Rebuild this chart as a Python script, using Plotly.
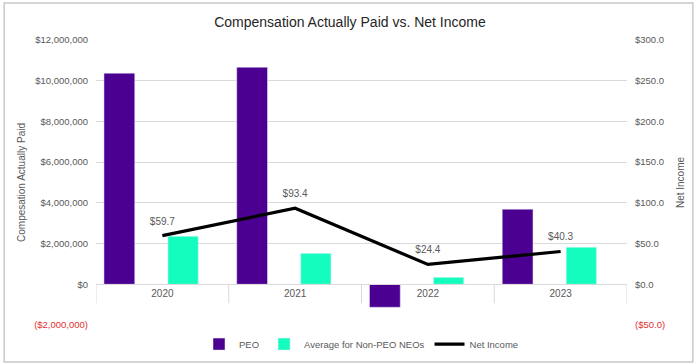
import plotly.graph_objects as go

years = ["2020", "2021", "2022", "2023"]
peo_cap = [10370000, 10660000, -1130000, 3690000]
neo_cap = [2360000, 1520000, 340000, 1820000]
net_income = [59.7, 93.4, 24.4, 40.3]
net_income_labels = ["$59.7", "$93.4", "$24.4", "$40.3"]

left_tickvals = [-2000000, 0, 2000000, 4000000, 6000000, 8000000, 10000000, 12000000]
left_ticktext = ['<span style="color:#e03030">($2,000,000)</span>', "$0", "$2,000,000", "$4,000,000",
                 "$6,000,000", "$8,000,000", "$10,000,000", "$12,000,000"]
right_tickvals = [-50, 0, 50, 100, 150, 200, 250, 300]
right_ticktext = ['<span style="color:#e03030">($50.0)</span>', "$0.0", "$50.0", "$100.0",
                  "$150.0", "$200.0", "$250.0", "$300.0"]

PEO_COLOR = "#4B0091"
NEO_COLOR = "#14FDBE"
GRID = "#d9d9d9"
TXT = "#595959"
FONT = "Liberation Sans"

fig = go.Figure()
fig.add_trace(go.Bar(x=years, y=peo_cap, name="PEO", marker_color=PEO_COLOR,
                     offset=-0.44, width=0.232, yaxis="y"))
fig.add_trace(go.Bar(x=years, y=neo_cap, name="Average for Non-PEO NEOs", marker_color=NEO_COLOR,
                     offset=0.042, width=0.228, yaxis="y"))
fig.add_trace(go.Scatter(x=years, y=net_income, name="Net Income", mode="lines+markers+text",
                         line=dict(color="black", width=3.2),
                         marker=dict(size=12, color="rgba(0,0,0,0)"),
                         text=net_income_labels,
                         textposition="top center", textfont=dict(size=10, color=TXT, family=FONT),
                         yaxis="y2", cliponaxis=False))

yr = [left_tickvals[0], left_tickvals[-1]]
zero_frac = (0 - yr[0]) / (yr[1] - yr[0])

shapes = []
# outer chart border
shapes.append(dict(type="rect", xref="paper", yref="paper", x0=-0.173, x1=1.124, y0=-0.13, y1=1.13,
                   line=dict(color="#c8c8c8", width=1.5), fillcolor="rgba(0,0,0,0)", layer="below"))
# category dividers below the axis
for i in range(len(years) + 1):
    shapes.append(dict(type="line", xref="x", yref="y", x0=i - 0.5, x1=i - 0.5, y0=0, y1=-930000,
                       line=dict(color=GRID, width=1), layer="below"))

fig.update_layout(
    width=700, height=364,
    margin=dict(l=96, r=73, t=40, b=39, autoexpand=False),
    paper_bgcolor="white", plot_bgcolor="white",
    title=dict(text="Compensation Actually Paid vs. Net Income", x=0.5, xanchor="center",
               y=0.94, yanchor="middle", font=dict(family=FONT, size=14, color="#262626")),
    barmode="overlay",
    showlegend=True,
    legend=dict(orientation="h", x=0.5, xanchor="center", y=-0.067, yanchor="middle",
                font=dict(family=FONT, size=9.5, color=TXT), itemwidth=30, tracegroupgap=0,
                bgcolor="rgba(0,0,0,0)"),
    xaxis=dict(type="category", categoryarray=years, range=[-0.5, len(years) - 0.5],
               anchor="free", position=zero_frac, showline=True, linecolor=GRID, linewidth=1,
               ticks="", showgrid=False, automargin=False,
               tickfont=dict(family=FONT, size=10, color=TXT)),
    yaxis=dict(range=yr, tickvals=left_tickvals, ticktext=left_ticktext, showgrid=True,
               gridcolor=GRID, gridwidth=1, zeroline=False, ticks="", ticklabelstandoff=7,
               automargin=False,
               tickfont=dict(family=FONT, size=9.5, color=TXT),
               title=dict(text="Compesation Actually Paid", standoff=6,
                          font=dict(family=FONT, size=10, color=TXT))),
    yaxis2=dict(range=[right_tickvals[0], right_tickvals[-1]], tickvals=right_tickvals,
                ticktext=right_ticktext, overlaying="y", side="right", showgrid=False,
                zeroline=False, ticks="", ticklabelstandoff=7, automargin=False,
                tickfont=dict(family=FONT, size=9.5, color=TXT),
                title=dict(text="Net Income", standoff=12, font=dict(family=FONT, size=10, color=TXT))),
    shapes=shapes,
)

fig.write_html("out.html", config={"displayModeBar": False},
               post_script="document.body.style.margin='0';document.body.style.padding='0';")
